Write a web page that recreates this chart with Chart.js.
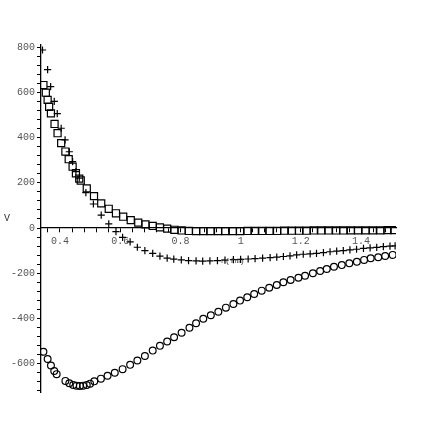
<!DOCTYPE html>
<html>
<head>
<meta charset="utf-8">
<script src="https://cdn.jsdelivr.net/npm/chart.js@4/dist/chart.umd.min.js"></script>
<style>
	body { margin: 0; background: #fff; }
</style>
</head>
<body>
<canvas id="myChart" width="436" height="436"></canvas>
<script>
// r (fm) and V for the three curves
var squareR = [0.345, 0.353, 0.359, 0.364, 0.370, 0.382, 0.392, 0.404, 0.418, 0.429, 0.442, 0.453, 0.464, 0.469,
	0.489, 0.513, 0.537, 0.562, 0.586, 0.610, 0.635, 0.660, 0.684, 0.708, 0.732, 0.756, 0.780, 0.804, 0.828, 0.852,
	0.876, 0.900, 0.925, 0.949, 0.974, 0.998, 1.023, 1.047, 1.072, 1.096, 1.121, 1.145, 1.170, 1.194, 1.219, 1.243,
	1.268, 1.292, 1.317, 1.341, 1.366, 1.390, 1.415, 1.439, 1.464, 1.488, 1.510];
var squareV = [632, 598, 566, 536, 507, 460, 419, 375, 338, 304, 271, 242, 218, 210,
	175, 141, 109, 85, 65, 50, 35, 24, 16, 9, 3, -3, -8, -11, -13, -14,
	-14, -14, -14, -14, -14, -14, -13, -13, -13, -13, -13, -12, -12, -12, -12, -11,
	-11, -11, -11, -11, -10, -10, -10, -10, -10, -9, -9];

var crossR = [0.342, 0.359, 0.369, 0.381, 0.391, 0.404, 0.417, 0.431, 0.442, 0.453, 0.464, 0.486, 0.511, 0.537,
	0.562, 0.586, 0.608, 0.633, 0.657, 0.682, 0.708, 0.732, 0.756, 0.778, 0.803, 0.827, 0.852, 0.874, 0.898, 0.923,
	0.948, 0.976, 1.000, 1.025, 1.048, 1.073, 1.098, 1.120, 1.142, 1.164, 1.186, 1.208, 1.231, 1.252, 1.275, 1.297,
	1.319, 1.341, 1.363, 1.385, 1.408, 1.430, 1.452, 1.474, 1.496, 1.513];
var crossV = [787, 700, 625, 560, 506, 441, 390, 337, 293, 249, 220, 156, 106, 57,
	18, -16, -41, -61, -85, -100, -112, -124, -133, -138, -141, -144, -145, -146, -145, -144,
	-142, -140, -139, -137, -135, -133, -131, -129, -126, -123, -119, -116, -114, -112, -109, -105,
	-102, -100, -97, -94, -90, -88, -86, -82, -80, -79];

var circleR = [0.345, 0.359, 0.370, 0.381, 0.389, 0.418, 0.431, 0.444, 0.455, 0.466, 0.477, 0.489, 0.500, 0.514,
	0.536, 0.558, 0.582, 0.608, 0.633, 0.657, 0.682, 0.708, 0.732, 0.756, 0.779, 0.804, 0.830, 0.852, 0.876, 0.901,
	0.926, 0.951, 0.976, 0.998, 1.022, 1.045, 1.070, 1.095, 1.120, 1.142, 1.166, 1.192, 1.214, 1.240, 1.264, 1.286,
	1.310, 1.336, 1.361, 1.386, 1.410, 1.432, 1.457, 1.480, 1.505];
var circleV = [-547, -579, -608, -632, -646, -676, -686, -694, -697, -698, -697, -694, -688, -678,
	-666, -653, -640, -624, -605, -586, -566, -542, -521, -502, -483, -463, -441, -421, -401, -386,
	-370, -352, -336, -321, -306, -292, -277, -264, -252, -240, -230, -220, -211, -200, -190, -181,
	-171, -164, -156, -149, -141, -134, -129, -124, -119];

// labelled ticks
var xTickLabels = [0.4, 0.6, 0.8, 1, 1.2, 1.4];
var yTickLabels = [-600, -400, -200, 0, 200, 400, 600, 800];

function toPoints(xs, ys){
	var pts = [];
	for(var i = 0; i < xs.length; i++){
		pts.push({ x : xs[i], y : ys[i] });
	}
	return pts;
}

function hasLabel(list, v){
	for(var i = 0; i < list.length; i++){
		if(Math.abs(list[i] - v) < 1e-6) return true;
	}
	return false;
}

var axisNames = {
	id : 'axisNames',
	afterDraw : function(chart){
		var ctx = chart.ctx;
		var zero = chart.scales.y.getPixelForValue(0);
		var area = chart.chartArea;
		ctx.save();
		ctx.fillStyle = '#333';
		ctx.textBaseline = 'middle';
		ctx.font = '10px "Liberation Mono"';
		ctx.textAlign = 'left';
		ctx.fillText('V', 4, zero - 10);
		ctx.font = '8px "Liberation Mono"';
		ctx.textAlign = 'center';
		ctx.fillText('r(fm)', (area.left + area.right) / 2 + 14, zero + 33);
		ctx.restore();
	}
};

var tickFont = { family : 'Liberation Mono', size : 10 };

var ctx = document.getElementById('myChart');
var myChart = new Chart(ctx, {
	type : 'scatter',
	data : {
		datasets : [ {
			label : 'squares',
			data : toPoints(squareR, squareV),
			pointStyle : 'rect',
			pointRadius : 5,
			borderWidth : 1.2,
			borderColor : '#000',
			backgroundColor : 'rgba(0,0,0,0)'
		}, {
			label : 'crosses',
			data : toPoints(crossR, crossV),
			pointStyle : 'cross',
			pointRadius : 3.6,
			borderWidth : 1.2,
			borderColor : '#000',
			backgroundColor : 'rgba(0,0,0,0)'
		}, {
			label : 'circles',
			data : toPoints(circleR, circleV),
			pointStyle : 'circle',
			pointRadius : 3.4,
			borderWidth : 1.2,
			borderColor : '#000',
			backgroundColor : 'rgba(0,0,0,0)'
		} ]
	},
	options : {
		responsive : false,
		animation : false,
		layout : { padding : { top : 45, bottom : 44, left : 0, right : 40 } },
		plugins : { legend : { display : false }, tooltip : { enabled : false } },
		scales : {
			x : {
				type : 'linear',
				min : 0.337,
				max : 1.516,
				position : { y : 0 },
				grid : { drawOnChartArea : false, tickLength : 4, color : '#000' },
				border : { color : '#000', width : 1.3 },
				ticks : {
					stepSize : 0.04,
					autoSkip : false,
					includeBounds : false,
					maxRotation : 0,
					padding : 3,
					color : '#555',
					font : tickFont,
					callback : function(v){
						return hasLabel(xTickLabels, v) ? String(parseFloat(v.toFixed(2))) : '';
					}
				}
			},
			y : {
				type : 'linear',
				min : -725,
				max : 809,
				position : 'left',
				afterFit : function(scale){ scale.width = 41; },
				grid : { drawOnChartArea : false, tickLength : 4, color : '#000' },
				border : { color : '#000', width : 1.3 },
				ticks : {
					stepSize : 40,
					autoSkip : false,
					includeBounds : false,
					padding : 2,
					color : '#555',
					font : tickFont,
					callback : function(v){
						return hasLabel(yTickLabels, v) ? String(v) : '';
					}
				}
			}
		}
	},
	plugins : [ axisNames ]
});
</script>
</body>
</html>
